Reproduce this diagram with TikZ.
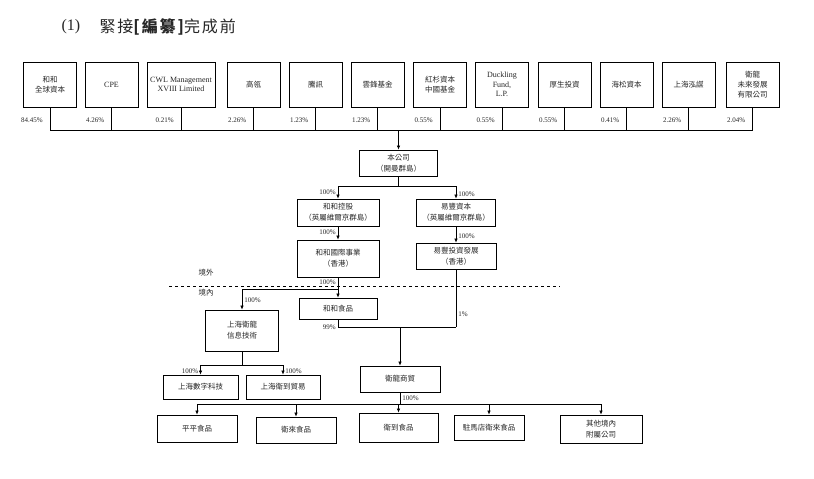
\documentclass[tikz,border=0pt]{standalone}
\usepackage{fontspec}
\setmainfont{Liberation Serif}
\newfontfamily\cjk{Noto Sans CJK TC}
\newfontfamily\cjktitle[LetterSpace=12]{Noto Sans CJK TC}
\usetikzlibrary{arrows.meta,calc}
\tikzstyle{arrow} = [-{Latex[length=4pt,width=3.5pt]}, line width=0.6pt]
\tikzstyle{link} = [line width=0.6pt]
\tikzstyle{holder} = [rectangle, draw, line width=0.8pt, text=black!85, minimum width=53pt, minimum height=45pt, inner sep=1pt, align=center, font=\fontsize{8}{9.5}\selectfont]
\tikzstyle{cholder} = [holder, font=\cjk\fontsize{7.5}{10}\selectfont]
\tikzstyle{entity} = [rectangle, draw, line width=0.8pt, text=black!85, inner sep=1pt, align=center, font=\cjk\fontsize{7.5}{11}\selectfont]
\tikzstyle{pct} = [font=\fontsize{7}{8}\selectfont, inner sep=2pt, text=black!85]

\begin{document}
\begin{tikzpicture}[x=1pt, y=-1pt]
    \useasboundingbox (0,0) rectangle (814,479);

    % Title
    \node[anchor=west, font=\fontsize{16}{18}\selectfont, text=black!85] (num) at (58,27) {(1)};
    \node[anchor=west, font=\cjktitle\fontsize{16}{18}\selectfont, text=black!85] (title) at (96,27) {緊接{\bfseries [編纂]}完成前};

    % Shareholders
    \node[cholder] (s1) at (50,84.5) {和和\\全球資本};
    \node[holder] (s2) at (111.5,84.5) {CPE};
    \node[holder, minimum width=68pt] (s3) at (181,84.5) {CWL Management\\XVIII Limited};
    \node[cholder] (s4) at (253.5,84.5) {高瓴};
    \node[cholder] (s5) at (315.5,84.5) {騰訊};
    \node[cholder] (s6) at (377.5,84.5) {雲鋒基金};
    \node[cholder] (s7) at (440,84.5) {紅杉資本\\中國基金};
    \node[holder] (s8) at (502,84.5) {Duckling\\Fund,\\L.P.};
    \node[cholder] (s9) at (564.5,84.5) {厚生投資};
    \node[cholder] (s10) at (626.5,84.5) {海松資本};
    \node[cholder] (s11) at (688.5,84.5) {上海泓謀};
    \node[cholder] (s12) at (752.5,84.5) {衛龍\\未來發展\\有限公司};

    % Shareholding bus
    \coordinate (bus) at (398.5,130);
    \draw[link] (s1.south) -- node[pct, left=5pt, pos=0.57] {84.45\%} (s1.south |- bus);
    \draw[link] (s2.south) -- node[pct, left=5pt, pos=0.57] {4.26\%} (s2.south |- bus);
    \draw[link] (s3.south) -- node[pct, left=5pt, pos=0.57] {0.21\%} (s3.south |- bus);
    \draw[link] (s4.south) -- node[pct, left=5pt, pos=0.57] {2.26\%} (s4.south |- bus);
    \draw[link] (s5.south) -- node[pct, left=5pt, pos=0.57] {1.23\%} (s5.south |- bus);
    \draw[link] (s6.south) -- node[pct, left=5pt, pos=0.57] {1.23\%} (s6.south |- bus);
    \draw[link] (s7.south) -- node[pct, left=5pt, pos=0.57] {0.55\%} (s7.south |- bus);
    \draw[link] (s8.south) -- node[pct, left=5pt, pos=0.57] {0.55\%} (s8.south |- bus);
    \draw[link] (s9.south) -- node[pct, left=5pt, pos=0.57] {0.55\%} (s9.south |- bus);
    \draw[link] (s10.south) -- node[pct, left=5pt, pos=0.57] {0.41\%} (s10.south |- bus);
    \draw[link] (s11.south) -- node[pct, left=5pt, pos=0.57] {2.26\%} (s11.south |- bus);
    \draw[link] (s12.south) -- node[pct, left=5pt, pos=0.57] {2.04\%} (s12.south |- bus);
    \draw[link] (s1.south |- bus) -- (s12.south |- bus);

    % Company and subsidiaries
    \node[entity, minimum width=78pt, minimum height=26pt] (co) at (398.5,163) {本公司\\（開曼群島）};
    \node[entity, minimum width=82pt, minimum height=27pt] (hh) at (338,212.5) {和和控股\\（英屬維爾京群島）};
    \node[entity, minimum width=79pt, minimum height=27pt] (yf) at (456,212.5) {易豐資本\\（英屬維爾京群島）};
    \node[entity, minimum width=82pt, minimum height=37pt] (hhi) at (338,258.5) {和和國際事業\\（香港）};
    \node[entity, minimum width=80pt, minimum height=26pt] (yfi) at (456,256) {易豐投資發展\\（香港）};
    \node[entity, minimum width=78pt, minimum height=21pt] (hhf) at (338,308.5) {和和食品};
    \node[entity, minimum width=73pt, minimum height=41pt] (shw) at (242,330.5) {上海衛龍\\信息技術};
    \node[entity, minimum width=80pt, minimum height=26pt] (wl) at (400,379) {衛龍商貿};
    \node[entity, minimum width=75pt, minimum height=24pt] (sd) at (200.5,387) {上海數字科技};
    \node[entity, minimum width=74pt, minimum height=24pt] (sw) at (283,387) {上海衛到貿易};
    \node[entity, minimum width=80pt, minimum height=27pt] (b1) at (197,428.5) {平平食品};
    \node[entity, minimum width=80pt, minimum height=26pt] (b2) at (296,430) {衛來食品};
    \node[entity, minimum width=79pt, minimum height=29pt] (b3) at (398.5,427.5) {衛到食品};
    \node[entity, minimum width=70pt, minimum height=25pt] (b4) at (489,427.5) {駐馬店衛來食品};
    \node[entity, minimum width=82pt, minimum height=28pt] (b5) at (601,429) {其他境內\\附屬公司};

    % Offshore / onshore boundary
    \draw[dashed, line width=0.6pt, dash pattern=on 3pt off 3pt] (169,286) -- (560,286);
    \node[font=\cjk\fontsize{7.5}{9}\selectfont, text=black!85] (off) at (206,273) {境外};
    \node[font=\cjk\fontsize{7.5}{9}\selectfont, text=black!85] (on) at (206,293) {境內};

    % Links
    \draw[arrow] (bus) -- (co.north);
    \coordinate (j1) at ($(co.south)+(0,10)$);
    \draw[link] (co.south) -- (j1);
    \draw[arrow] (j1) -| node[pct, left, pos=0.75] {100\%} (hh.north);
    \draw[arrow] (j1) -| node[pct, right, pos=0.8] {100\%} (yf.north);
    \draw[arrow] (hh) -- node[pct, left, pos=0.45] {100\%} (hhi);
    \draw[arrow] (yf) -- node[pct, right, pos=0.6] {100\%} (yfi);
    \draw[arrow] (hhi) -- node[pct, left, pos=0.22] {100\%} (hhf);
    \coordinate (j2) at ($(hhi.south)+(0,12)$);
    \draw[arrow] (j2) -| node[pct, right, pos=0.78] {100\%} (shw.north);
    \coordinate (j3) at ($(hhf.south)+(0,8)$);
    \draw[link] (hhf.south) -- node[pct, left, pos=1] {99\%} (j3) -- (yfi.south |- j3);
    \draw[link] (yfi.south) -- node[pct, right, pos=0.78] {1\%} (yfi.south |- j3);
    \draw[arrow] (wl.north |- j3) -- (wl.north);
    \coordinate (j5) at ($(shw.south)+(0,14)$);
    \draw[link] (shw.south) -- (j5);
    \draw[arrow] (j5) -| node[pct, left, pos=0.8] {100\%} (sd.north);
    \draw[arrow] (j5) -| node[pct, right, pos=0.8] {100\%} (sw.north);
    \coordinate (j4) at ($(wl.south)+(0,12)$);
    \draw[link] (wl.south) -- node[pct, right] {100\%} (j4);
    \draw[link] (b1.north |- j4) -- (b5.north |- j4);
    \draw[arrow] (b1.north |- j4) -- (b1.north);
    \draw[arrow] (b2.north |- j4) -- (b2.north);
    \draw[arrow] (b3.north |- j4) -- (b3.north);
    \draw[arrow] (b4.north |- j4) -- (b4.north);
    \draw[arrow] (b5.north |- j4) -- (b5.north);
\end{tikzpicture}
\end{document}
